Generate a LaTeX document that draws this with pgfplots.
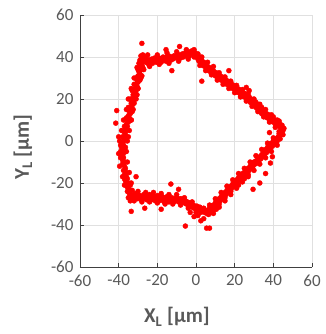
\documentclass[border=0pt]{standalone}
\usepackage{pgfplots}
\pgfplotsset{compat=1.18}
\usepackage{fontspec}
\setmainfont{Carlito}
\definecolor{txtgray}{HTML}{595959}
\definecolor{gridgray}{HTML}{E0E0E0}
\definecolor{axgray}{HTML}{404040}
\begin{document}
\begin{tikzpicture}
\begin{axis}[
  scale only axis,
  width=232pt, height=252pt,
  xmin=-60, xmax=60, ymin=-60, ymax=60,
  xtick={-60,-40,...,60}, ytick={-60,-40,...,60},
  axis x line=bottom, axis y line=left,
  axis line style={-, axgray, line width=0.8pt},
  tick style={axgray, line width=0.8pt},
  major tick length=4pt,
  tick align=inside,
  grid=major,
  grid style={gridgray, line width=0.6pt},
  /pgf/number format/assume math mode=true,
  ticklabel style={font=\fontsize{17}{18}\selectfont, text=txtgray},
  xticklabel style={yshift=-4pt},
  yticklabel style={xshift=-3pt},
  xlabel={\textbf{X\textsubscript{L} [µm]}},
  ylabel={\textbf{Y\textsubscript{L} [µm]}},
  label style={font=\fontsize{21}{23}\selectfont, text=txtgray},
  xlabel style={at={(axis description cs:0.418,-0.198)}, anchor=center},
  ylabel style={at={(axis description cs:-0.246,0.476)}, anchor=center, rotate=0},
  clip=false,
]
\addplot[only marks, mark=*, mark size=2.5pt, color=red, mark options={fill=red, draw=red}] coordinates {
% top edge
(-28,37)(-27.5,39)(-27,38)(-26.5,40)(-26,37.5)(-25.5,39)(-25,38)(-24.5,36.5)(-24,38.5)(-23.5,37.5)
(-23,39)(-22.5,37)(-22,38)(-21.5,39.5)(-21,38)(-20.5,37.5)(-20,39)(-19.5,38)(-19,39.5)(-18.5,38.5)
(-18,37.5)(-17.5,39)(-17,40)(-16.5,38.5)(-16,39.5)(-15.5,38)(-15,40)(-14.5,39)(-14,40.5)(-13.5,39.5)
(-13,38.5)(-12.5,40)(-12,39)(-11.5,40.5)(-11,39.5)(-10.5,40)(-10,41)(-9.5,39.5)(-9,40.5)(-8.5,41)
(-8,39.5)(-7.5,40.5)(-7,41.5)(-6.5,40)(-6,41)(-5.5,42)(-5,40.5)(-4.5,41.5)(-4,42)(-3.5,40.5)
(-3,42.5)(-2.5,41.5)(-2,43)(-1.5,42)(-1,43.5)(-0.5,42)(0,41)(-28.5,40.5)(-27.5,41)(-29,38.5)
(-25,41)(-20,41)(-15,42)(-10,42.5)(-5,43.5)(-24,35.5)(-19,36.5)(-14,37)(-9,38)(-4,39)(-1,40)
% upper right edge
(0.5,40)(1,41.5)(1,39)(1.5,38)(2,40)(2.5,37)(3,38.5)(3.5,36)(4,37.5)(4.5,35.5)
(5,36.5)(5.5,34.5)(6,35.5)(6.5,33.5)(7,35)(7.5,33)(8,34)(8.5,32)(9,33.5)(9.5,32.5)
(10,31)(10.5,32.5)(11,30.5)(11.5,31.5)(12,30)(12.5,31)(13,29)(13.5,30.5)(14,28.5)(14.5,29.5)
(15,27.5)(15.5,29)(16,27)(16.5,28.5)(17,26.5)(17.5,27.5)(18,25.5)(18.5,27)(19,25)(19.5,26.5)
(20,24.5)(20.5,25.5)(21,23.5)(21.5,25)(22,23)(22.5,24.5)(23,22.5)(23.5,23.5)(24,21.5)(24.5,23)
(25,21)(25.5,22.5)(26,20)(26.5,21.5)(27,19.5)(27.5,21)(28,18.5)(28.5,20)(29,17.5)(29.5,19)
(30,17)(30.5,18.5)(31,16)(31.5,17.5)(32,15)(32.5,16.5)(33,14)(33.5,15.5)(34,13)(34.5,14.5)
(35,12.5)(35.5,14)(36,11.5)(36.5,13)(37,11)(37.5,12.5)(38,10)(38.5,11.5)(39,9.5)(39.5,11)
(40,9)(40.5,10)(41,8)(41.5,9.5)(42,7.5)(42.5,9)(43,7)(43.5,8)(44,6)(44.5,7.5)
(45,5)(45,3)(44.5,4.5)(45.5,6)(43,9.5)(40,11.5)(34,16)(31,18.5)
(3,40)(6,37.5)(9,35.5)(12,32.5)(15,30.5)(18,28.5)(21,26.5)(24,24.5)(27,22.5)(30,20)(33,17.5)(36,15)(39,12.5)(42,10)
(2,36)(5,33.5)(8,31.5)(11,29)(14,27)(17,25)(20,23)(23,21)(26,19)(29,16.5)(32,14)(35,11.5)(38,9)(41,6.5)(43,4.5)
% lower right edge
(44,3)(43.5,1)(42.5,2)(42,0)(41.5,-1)(41,1)(40.5,-1.5)(40,0)(39.5,-2.5)(39,-1)
(38.5,-3.5)(38,-2)(37.5,-4.5)(37,-3)(36.5,-5.5)(36,-4)(35.5,-6.5)(35,-5.5)(34.5,-7.5)(34,-6.5)
(33.5,-8.5)(33,-7.5)(32.5,-9.5)(32,-8.5)(31.5,-10.5)(31,-9.5)(30.5,-11)(30,-10)(29.5,-12)(29,-11)
(28.5,-13)(28,-12)(27.5,-14)(27,-13)(26.5,-15)(26,-14)(25.5,-16)(25,-15)(24.5,-16.5)(24,-15.5)
(23.5,-17.5)(23,-16.5)(22.5,-18.5)(22,-17.5)(21.5,-19.5)(21,-18.5)(20.5,-20.5)(20,-19.5)(19.5,-21.5)(19,-20.5)
(18.5,-22.5)(18,-21.5)(17.5,-23.5)(17,-22.5)(16.5,-24.5)(16,-23.5)(15.5,-25.5)(15,-24.5)(14.5,-26.5)(14,-25.5)
(13.5,-27.5)(13,-26.5)(12.5,-28.5)(12,-27.5)(11.5,-29.5)(11,-28.5)(10.5,-30.5)(10,-29.5)(9.5,-31.5)(9,-30.5)
(8.5,-32)(8,-31)(7.5,-33)(7,-32)(6.5,-34)(6,-33)(5.5,-34.5)(5,-33)(4.5,-34)
(18,-24)(15,-27)(12,-30)(9,-33)(8,-34)(22,-21)(25,-18)(27,-16)(6.5,-35)(10.5,-32.5)
(42,-2)(39,-5)(36,-8)(33,-11)(30,-14)(27,-17)(24,-19.5)(21,-22.5)(18,-25.5)(15,-28.5)(12,-31.5)(9,-34.5)
(43,3.5)(40,1.5)(37,-1)(34,-4)(31,-7)(28,-10)(25,-13)(22,-15.5)(19,-18.5)(16,-21.5)(13,-24.5)(10,-27.5)(7,-30.5)
% bottom edge
(4,-32)(3.5,-33.5)(3,-32.5)(2.5,-34)(2,-31.5)(1.5,-33)(1,-32)(0.5,-31)(0,-32.5)(-0.5,-31)
(-1,-32)(-1.5,-30.5)(-2,-31.5)(-2.5,-30)(-3,-31)(-3.5,-29.5)(-4,-30.5)(-4.5,-29)(-5,-30)(-5.5,-28.5)
(-6,-29.5)(-6.5,-28)(-7,-29)(-7.5,-27.5)(-8,-28.5)(-8.5,-27.5)(-9,-29)(-9.5,-28)(-10,-27)(-10.5,-28.5)
(-11,-27.5)(-11.5,-29)(-12,-28)(-12.5,-27)(-13,-28.5)(-13.5,-27.5)(-14,-29)(-14.5,-28)(-15,-26.5)(-15.5,-28)
(-16,-27)(-16.5,-29)(-17,-27.5)(-17.5,-26.5)(-18,-28)(-18.5,-27)(-19,-28.5)(-19.5,-27)(-20,-26)(-20.5,-27.5)
(-21,-28.5)(-21.5,-26.5)(-22,-27.5)(-22.5,-26)(-23,-28)(-23.5,-27)(-24,-25.5)(-24.5,-27.5)(-25,-26.5)(-25.5,-28)
(-26,-26)(-26.5,-27)(-27,-25.5)(-27.5,-27.5)(-28,-26.5)(-28.5,-28)(-29,-26)(-29.5,-27)(-30,-25.5)(-30.5,-27.5)
(-31,-26.5)(-31.5,-25)(-32,-27)(-32.5,-26)(-33,-27.5)(-33.5,-25.5)(-34,-26.5)(-34.5,-25)(-35,-27)
(0,-34)(-4,-32)(-8,-30.5)(-12,-30)(-16,-30)(-20,-29.5)(-24,-29)(-28,-29)(-32,-28.5)(-34,-28.5)
(-2,-29)(-6,-27)(-10,-25.5)(-14,-25.5)(-18,-25)(-22,-24.5)(-26,-24.5)(-30,-24)(-33,-23.5)
% left edge
(-35.5,-24)(-34.5,-23)(-35.5,-22)(-36,-21)(-35,-20)(-36.5,-19)(-35.5,-18)(-36,-17)(-37,-16)(-36,-15)
(-37.5,-14)(-36.5,-13)(-37,-12)(-38,-11)(-37,-10)(-38,-9)(-37.5,-8)(-38.5,-7)(-37.5,-6)(-39,-5)
(-38,-4)(-38.5,-3)(-37.5,-2)(-38.5,-1)(-37.5,0)(-37,1)(-38,2)(-36.5,3)(-37,4)(-36,5)
(-36.5,6)(-35.5,7)(-36,8)(-35,9)(-35.5,10)(-34.5,11)(-35,12)(-34,13)(-34.5,14)(-33.5,15)
(-34,16)(-33,17)(-33.5,18)(-32.5,19)(-33,20)(-32,21)(-32.5,22)(-31.5,23)(-31,24)(-31.5,25)
(-30.5,26)(-31,27)(-30,28)(-30.5,29)(-29.5,30)(-30,31)(-29,32)(-29.5,33)(-28.5,34)(-29,35)
(-28,36)(-28.5,37)
(-37,-18)(-34,-21)(-39,-8)(-36.5,-3)(-39,-2)(-35,2)(-37,7)(-33.5,10)(-36,11)(-33,14)
(-35,16)(-32,18)(-34,20)(-30.5,22)(-33,24)(-30,25)(-32,27)(-29,29)(-31,30)(-28,31)
(-30,34)(-27.5,35)(-29.5,37)(-26.5,38.5)
(-37,-21)(-38,-17)(-39.5,-12)(-40,-6)(-39.5,0)(-38.5,5)(-37.5,10)(-36,15)(-35,20)(-33.5,25)(-32,30)(-30.5,35)
(-33.5,-20)(-34.5,-15)(-35.5,-10)(-36,-5)(-35.5,0)(-34.5,5)(-33.5,10)(-32.5,15)(-31,20)(-30,25)(-28.5,30)(-27,34)
% outliers
(-28,46.5)(-15.5,43.5)(-8.5,45)(-12.5,33.5)(3,28.5)(17,33.5)(26,25.5)(27.5,24)
(-41,14.5)(-41.5,8.5)(-40,2)(-33.5,-33.5)(-26.5,-32)(-18,-32.5)(-13,-20.5)(-9,-23)
(-5.5,-40.5)(2.5,-38)(5.5,-41.5)(7,-41.5)(-1,-36)(38.5,-10.5)(36,-15.5)(39.5,-7.5)
(33,-20)(29.5,-23)(38,4)(-31,-17)(1,-35.5)(4,-37)(-3,-34)
};
\coordinate (o) at (rel axis cs:0,0);
\end{axis}
\pgfresetboundingbox
\path[use as bounding box] (o) ++(-80pt,-67pt) rectangle ++(325pt,334pt);
\end{tikzpicture}
\end{document}
